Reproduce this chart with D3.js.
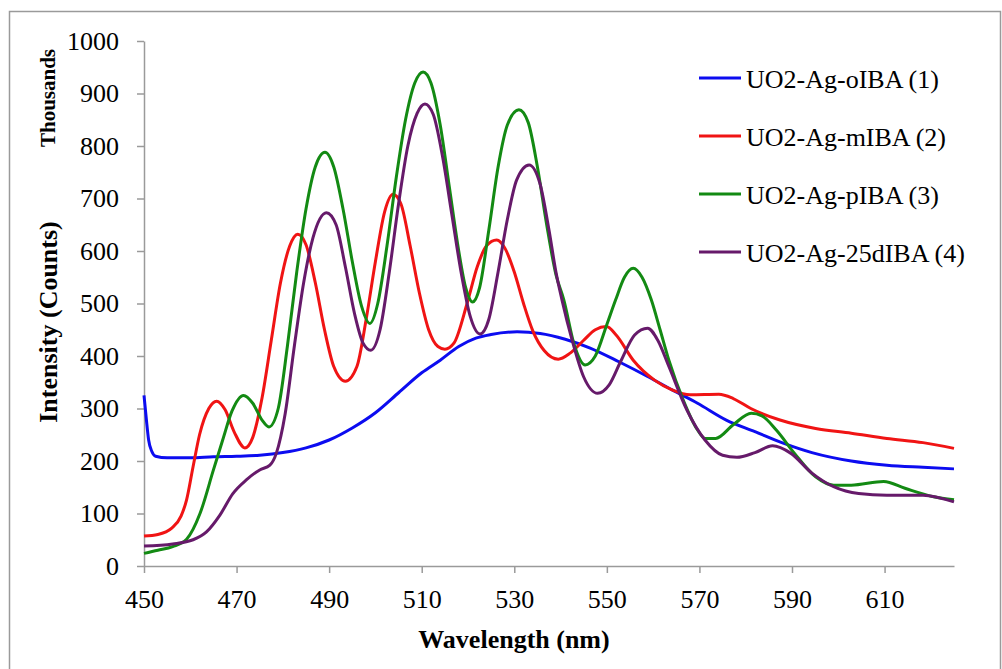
<!DOCTYPE html>
<html>
<head>
<meta charset="utf-8">
<script src="https://cdn.jsdelivr.net/npm/d3@7"></script>
<style>
  body { margin: 0; background: #fff; }
  svg, svg text { font-family: "Liberation Serif", "Times New Roman", serif; }
</style>
</head>
<body>
<div id="chart"></div>
<script>
const WIDTH = 1002;
const HEIGHT = 669;
const margin = { left: 144, right: 48, top: 41, bottom: 103 };

// series: wavelength (nm) and intensity (thousands of counts)
const wl1 = [450, 450.5, 451, 451.7, 452.5, 455, 460, 465, 470, 475, 480, 485, 490, 495, 500, 505, 510, 514, 518, 521.7, 525, 530.6, 535.6, 541, 546.4, 552.6, 558.8, 564.2, 569.6, 575.8, 582, 588.1, 594.3, 602.8, 610.5, 618.3, 625];
const val1 = [325, 280, 240, 218, 209, 206, 206, 208, 209, 211, 216, 225, 240, 263, 292, 330, 368, 392, 418, 434, 441, 446, 443, 432, 415, 389, 361, 335, 310, 278, 256, 234, 216, 200, 192, 188, 185];

const wl2 = [450, 453, 456, 458, 459.2, 460.6, 462, 464, 465.7, 467.5, 469.5, 471.8, 473.5, 475.5, 477.5, 479.5, 481.5, 483.2, 485, 487, 489, 491, 493.5, 496, 498, 500, 502, 503.8, 505.5, 507.5, 509.5, 511.5, 513.5, 515, 517, 519.8, 522, 524, 526.2, 528, 530, 532, 534, 536.5, 539.5, 542, 545, 547.5, 549.9, 552, 555.7, 560.3, 564.2, 568, 574.2, 577.3, 581.1, 587.4, 595.1, 602.8, 610.5, 618.3, 625];
const val2 = [57, 60, 72, 95, 126, 189, 250, 300, 314, 298, 255, 225, 245, 320, 430, 540, 610, 632, 612, 540, 450, 380, 352, 380, 470, 580, 675, 708, 690, 610, 520, 450, 418, 413, 425, 500, 570, 610, 621, 605, 560, 500, 448, 410, 394, 405, 430, 450, 456, 440, 392, 354, 335, 326, 327, 319, 300, 278, 262, 253, 243, 235, 224];

const wl3 = [450, 453, 456.2, 459.2, 462.1, 465, 467, 469, 471.5, 473.5, 475.5, 477, 479, 481, 483, 485, 487, 489.1, 491, 493, 495, 497, 498.8, 500.5, 502.5, 504.5, 506.5, 508.5, 510.3, 512, 514, 516, 518, 519.5, 521, 522.5, 524.5, 526.5, 528.5, 531, 533, 535, 537, 539, 540.7, 543, 545.3, 547.5, 550, 551.9, 553.8, 555.7, 557.6, 559.6, 561.5, 563.4, 566.5, 569.6, 571.2, 573.5, 577.3, 581.2, 583.5, 586.6, 590.5, 595.1, 599, 602.8, 609.8, 614.4, 620.6, 625];
const val3 = [24, 30, 37, 51, 100, 183, 240, 295, 325, 310, 278, 265, 300, 420, 560, 680, 760, 788, 760, 680, 580, 495, 462, 500, 610, 740, 850, 920, 941, 920, 840, 720, 600, 530, 503, 530, 640, 760, 840, 869, 845, 760, 650, 555, 507, 420, 383, 400, 460, 507, 550, 567, 550, 507, 450, 392, 316, 259, 243, 243, 269, 291, 286, 259, 215, 170, 154, 154, 161, 148, 132, 126];

const wl4 = [450, 456.2, 460.6, 463.5, 466.4, 469.2, 472.1, 475, 477.2, 478.6, 480.5, 482.5, 484.5, 486.5, 489.4, 491.5, 493.5, 495.5, 497.3, 499, 501, 503, 505, 507, 509, 510.7, 512.5, 514.5, 516.5, 518.5, 520.5, 522.6, 524.5, 526.5, 528.5, 530.5, 533.2, 535.5, 537.5, 539, 540.3, 542.5, 545, 548, 550.5, 553, 556, 558.8, 561, 563.4, 567.3, 571.2, 575, 578.1, 582, 585.8, 589.7, 594.3, 599, 604.4, 610.5, 618.3, 625];
const val4 = [38, 42, 50, 65, 97, 138, 164, 183, 192, 215, 290, 420, 540, 625, 673, 650, 570, 480, 425, 411, 450, 560, 690, 800, 862, 880, 860, 780, 670, 560, 475, 442, 470, 560, 660, 735, 764, 730, 640, 560, 507, 430, 360, 329, 345, 390, 440, 453, 430, 380, 297, 240, 211, 207, 216, 229, 215, 177, 151, 138, 135, 135, 122];

const seriesNames = ["UO2-Ag-oIBA (1)", "UO2-Ag-mIBA (2)", "UO2-Ag-pIBA (3)", "UO2-Ag-25dIBA (4)"];
const seriesColors = ["#0c0cf0", "#f01414", "#138a13", "#661a6a"];
const xTicks = [450, 470, 490, 510, 530, 550, 570, 590, 610];
const yTicks = [0, 100, 200, 300, 400, 500, 600, 700, 800, 900, 1000];

const series = [
	{ wl: wl1, val: val1 },
	{ wl: wl2, val: val2 },
	{ wl: wl3, val: val3 },
	{ wl: wl4, val: val4 }
];

const svg = d3.select('#chart')
	.append('svg')
		.attr('width', WIDTH)
		.attr('height', HEIGHT)
		.attr('style', 'background-color: #fff');

// outer chart border
svg.append('rect')
	.attr('x', 9.5)
	.attr('y', 11.5)
	.attr('width', 991)
	.attr('height', 700)
	.attr('fill', 'none')
	.attr('stroke', '#9a9a9a')
	.attr('stroke-width', 1.5);

const x = d3.scaleLinear().domain([450, 625]).range([margin.left, WIDTH - margin.right]);
const y = d3.scaleLinear().domain([0, 1000]).range([HEIGHT - margin.bottom, margin.top]);

const xAxis = svg.append('g')
	.attr('transform', `translate(0,${HEIGHT - margin.bottom})`)
	.call(d3.axisBottom(x).tickValues(xTicks).tickFormat(d3.format('d')).tickSize(7).tickPadding(17).tickSizeOuter(0));

const yAxis = svg.append('g')
	.attr('transform', `translate(${margin.left},0)`)
	.call(d3.axisLeft(y).tickValues(yTicks).tickFormat(d3.format('d')).tickSize(7).tickPadding(18).tickSizeOuter(0));

[xAxis, yAxis].forEach(ax => {
	ax.attr('font-family', null).attr('font-size', null);
	ax.selectAll('.domain, .tick line').attr('stroke', '#9a9a9a').attr('stroke-width', 1.5);
	ax.selectAll('.tick text')
		.attr('fill', '#000')
		.style('font-size', '26px')
		.style('font-family', '"Liberation Serif", "Times New Roman", serif');
});

const line = d3.line()
	.x(d => x(d[0]))
	.y(d => y(d[1]))
	.curve(d3.curveMonotoneX);

series.forEach((s, i) => {
	svg.append('path')
		.datum(s.wl.map((w, j) => [w, s.val[j]]))
		.attr('d', line)
		.attr('fill', 'none')
		.attr('stroke', seriesColors[i])
		.attr('stroke-width', 3)
		.attr('stroke-linejoin', 'round');
});

// legend
const legend = svg.append('g').attr('transform', 'translate(699,78)');
seriesNames.forEach((name, i) => {
	const g = legend.append('g').attr('transform', `translate(0,${i * 58})`);
	g.append('line')
		.attr('x1', 0).attr('x2', 42)
		.attr('stroke', seriesColors[i])
		.attr('stroke-width', 3);
	g.append('text')
		.attr('x', 47)
		.attr('y', 9.5)
		.attr('font-size', 26)
		.text(name);
});

// axis titles
svg.append('text')
	.attr('transform', 'translate(57,322) rotate(-90)')
	.attr('text-anchor', 'middle')
	.attr('font-size', 26)
	.attr('font-weight', 'bold')
	.text('Intensity (Counts)');

svg.append('text')
	.attr('transform', 'translate(55,98) rotate(-90)')
	.attr('text-anchor', 'middle')
	.attr('font-size', 21)
	.attr('font-weight', 'bold')
	.text('Thousands');

svg.append('text')
	.attr('x', 514)
	.attr('y', 648)
	.attr('text-anchor', 'middle')
	.attr('font-size', 26)
	.attr('font-weight', 'bold')
	.text('Wavelength (nm)');
</script>
</body>
</html>
